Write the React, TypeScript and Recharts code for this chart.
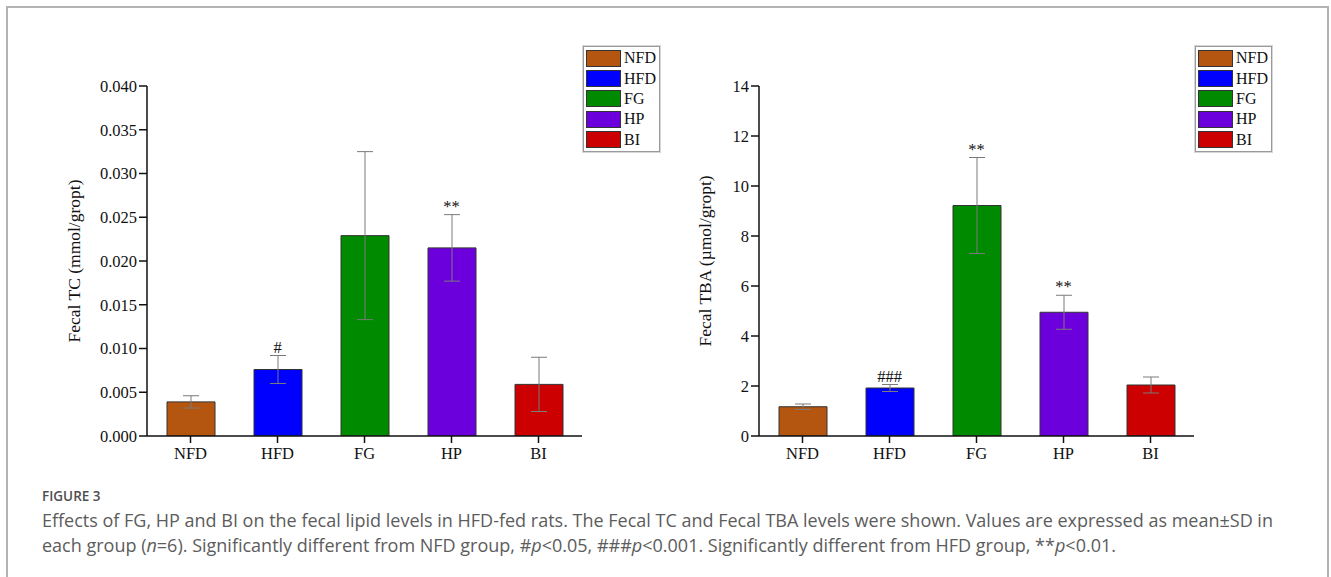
import React from 'react';
import { ComposedChart, Bar, Line, XAxis, YAxis, ErrorBar, Cell, LabelList } from 'recharts';

const GROUPS = ['NFD', 'HFD', 'FG', 'HP', 'BI'];
const GROUP_COLORS = ['#b4560f', '#0000ff', '#008a00', '#6c00dc', '#cc0000'];

// Fecal TC (mmol/gropt)
const TC_MEAN = [0.0039, 0.0076, 0.0229, 0.0215, 0.0059];
const TC_SD = [0.0007, 0.0016, 0.0096, 0.0038, 0.0031];
const TC_MARKS = ['', '#', '', '**', ''];
const TC_TICKS = [0, 0.005, 0.01, 0.015, 0.02, 0.025, 0.03, 0.035, 0.04];

// Fecal TBA (µmol/gropt)
const TBA_MEAN = [1.17, 1.92, 9.22, 4.95, 2.04];
const TBA_SD = [0.11, 0.14, 1.92, 0.68, 0.32];
const TBA_MARKS = ['', '###', '**', '**', ''];
const TBA_TICKS = [0, 2, 4, 6, 8, 10, 12, 14];

const SERIF = '"Liberation Serif", "Times New Roman", serif';
const CAPTION_FONT = '"Open Sans", "Noto Sans", sans-serif';

const buildRows = (mean: number[], sd: number[], marks: string[]) =>
  GROUPS.map((g, i) => ({ group: g, mean: mean[i], sd: sd[i], top: mean[i] + sd[i], mark: marks[i] }));

// group key drawn beside each panel
const LegendBox = ({ left }: { left: number }) => (
  <div
    style={{
      position: 'absolute',
      left,
      top: 46,
      border: '1px solid #9a9a9a',
      boxShadow: '0 0 0 1px #d6d6d6',
      background: '#fff',
      padding: '1px 2px',
      width: 71,
    }}
  >
    {GROUPS.map((g, i) => (
      <div key={g} style={{ display: 'flex', alignItems: 'center', height: 20.4 }}>
        <div
          style={{
            width: 35,
            height: 17,
            background: GROUP_COLORS[i],
            border: '1px solid #333',
            boxSizing: 'border-box',
          }}
        />
        <span style={{ fontFamily: SERIF, fontSize: 16, color: '#111', marginLeft: 3, lineHeight: '20px' }}>{g}</span>
      </div>
    ))}
  </div>
);

const MarkLabel = (props: any) => {
  const { x, y, value } = props;
  if (!value) return null;
  return (
    <text x={x} y={y - 3} textAnchor="middle" fontFamily={SERIF} fontSize={16.5} fill="#111">
      {value}
    </text>
  );
};

interface PanelProps {
  rows: ReturnType<typeof buildRows>;
  ticks: number[];
  domainMax: number;
  fmt: (v: number) => string;
  yLabel: string;
  axisWidth: number;
  width: number;
  marginRight: number;
}

const Panel: React.FC<PanelProps> = ({ rows, ticks, domainMax, fmt, yLabel, axisWidth, width, marginRight }) => (
  <ComposedChart
    width={width}
    height={480}
    data={rows}
    margin={{ top: 86, right: marginRight, left: 0, bottom: 0 }}
    barSize={48}
  >
    <XAxis
      dataKey="group"
      tickLine={{ stroke: '#111', strokeWidth: 1.5 }}
      axisLine={{ stroke: '#111', strokeWidth: 1.5 }}
      tickSize={7}
      tickMargin={4}
      tick={{ fontFamily: SERIF, fontSize: 16.5, fill: '#111' }}
      interval={0}
      height={44}
    />
    <YAxis
      width={axisWidth}
      domain={[0, domainMax]}
      ticks={ticks}
      tickFormatter={fmt}
      tickLine={{ stroke: '#111', strokeWidth: 1.5 }}
      axisLine={{ stroke: '#111', strokeWidth: 1.5 }}
      tickSize={8}
      tickMargin={2}
      tick={{ fontFamily: SERIF, fontSize: 16.5, fill: '#111' }}
      allowDataOverflow
      label={{ value: yLabel, angle: -90, position: 'center', style: { fontFamily: SERIF, fontSize: 17.5, fill: '#111' } }}
    />
    <Bar dataKey="mean" stroke="#333" strokeWidth={1} isAnimationActive={false}>
      {rows.map((r, i) => (
        <Cell key={r.group} fill={GROUP_COLORS[i]} />
      ))}
      <ErrorBar dataKey="sd" width={8} stroke="#7a7a7a" strokeWidth={1} direction="y" />
    </Bar>
    <Line dataKey="top" stroke="none" dot={false} activeDot={false} isAnimationActive={false} legendType="none">
      <LabelList dataKey="mark" content={<MarkLabel />} />
    </Line>
  </ComposedChart>
);

const captionLine: React.CSSProperties = {
  position: 'absolute',
  left: 42,
  fontFamily: CAPTION_FONT,
  fontSize: 18,
  color: '#5c5c5c',
  whiteSpace: 'nowrap',
};

export default function App() {
  const tcRows = buildRows(TC_MEAN, TC_SD, TC_MARKS);
  const tbaRows = buildRows(TBA_MEAN, TBA_SD, TBA_MARKS);

  return (
    <div style={{ position: 'absolute', left: 0, top: 0, width: 1331, height: 577, overflow: 'hidden', background: '#fff' }}>
      <div
        style={{
          position: 'absolute',
          left: 6,
          top: 6,
          width: 1323,
          height: 640,
          border: '2px solid #b3b3b3',
          boxSizing: 'border-box',
        }}
      />
      <div style={{ position: 'absolute', left: 0, top: 0 }}>
        <Panel
          rows={tcRows}
          ticks={TC_TICKS}
          domainMax={0.04}
          fmt={(v) => v.toFixed(3)}
          yLabel="Fecal TC (mmol/gropt)"
          axisWidth={147}
          width={670}
          marginRight={88}
        />
      </div>
      <div style={{ position: 'absolute', left: 651, top: 0 }}>
        <Panel
          rows={tbaRows}
          ticks={TBA_TICKS}
          domainMax={14}
          fmt={(v) => String(v)}
          yLabel="Fecal TBA (µmol/gropt)"
          axisWidth={108}
          width={670}
          marginRight={127}
        />
      </div>
      <LegendBox left={583} />
      <LegendBox left={1195} />
      <div style={{ ...captionLine, top: 487, fontSize: 13.5, fontWeight: 600, color: '#4f4f4f' }}>FIGURE 3</div>
      <div style={{ ...captionLine, top: 508 }}>
        Effects of FG, HP and BI on the fecal lipid levels in HFD-fed rats. The Fecal TC and Fecal TBA levels were shown. Values are expressed as mean±SD in
      </div>
      <div style={{ ...captionLine, top: 533 }}>
        each group (<i>n</i>=6). Significantly different from NFD group, #<i>p</i>&lt;0.05, ###<i>p</i>&lt;0.001. Significantly different from HFD group, **<i>p</i>&lt;0.01.
      </div>
    </div>
  );
}
